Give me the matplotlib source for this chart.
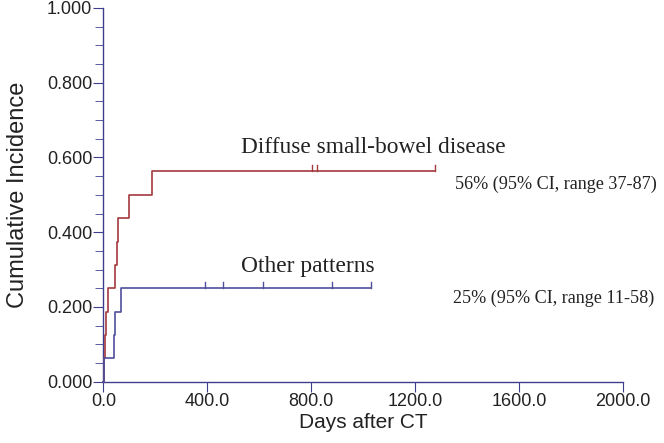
import numpy as np
import matplotlib.pyplot as plt

# step times (days) and cumulative incidence after each step
diffuse_t = [0, 2, 5, 10, 18, 45, 51, 58, 100, 189]
diffuse_ci = [0.0, 0.0625, 0.125, 0.1875, 0.25, 0.3125, 0.375, 0.4375, 0.5, 0.5625]
diffuse_end = 1277
diffuse_cens = [804, 821, 1277]

other_t = [0, 2, 41, 45, 70]
other_ci = [0.0, 0.0625, 0.125, 0.1875, 0.25]
other_end = 1030
other_cens = [391, 459, 615, 882, 1030]

red = "#a33a3e"
blue = "#4f4f9c"
axcol = "#3e3e8e"

fig = plt.figure(figsize=(6.64, 4.43), dpi=100)
ax = fig.add_axes([0.1556, 0.1384, 0.7822, 0.8436])


def km(t, ci, end, cens, col):
    x = list(t) + [end]
    y = list(ci) + [ci[-1]]
    ax.step(x, y, where="post", color=col, lw=1.2, clip_on=False, zorder=3)
    for c in cens:
        ax.plot([c, c], [ci[-1], ci[-1] + 0.016], color=col, lw=1.0, clip_on=False, zorder=3)


km(diffuse_t, diffuse_ci, diffuse_end, diffuse_cens, red)
km(other_t, other_ci, other_end, other_cens, blue)

ax.set_xlim(0, 2000)
ax.set_ylim(0, 1.0)
ax.set_xticks(np.arange(0, 2001, 400))
ax.set_xticklabels([f"{v:.1f}" for v in np.arange(0, 2001, 400)])
ax.set_yticks(np.arange(0, 1.01, 0.2))
ax.set_yticklabels([f"{v:.3f}" for v in np.arange(0, 1.01, 0.2)])
ax.set_yticks(np.arange(0, 1.01, 0.05), minor=True)

for s in ["top", "right"]:
    ax.spines[s].set_visible(False)
for s in ["left", "bottom"]:
    ax.spines[s].set_color(axcol)
    ax.spines[s].set_linewidth(1.0)
ax.tick_params(axis="both", which="both", direction="out", color=axcol,
               labelsize=13, labelcolor="#222222", pad=1)
ax.tick_params(which="major", length=7)
ax.tick_params(which="minor", length=6)
for lab in ax.get_xticklabels() + ax.get_yticklabels():
    lab.set_family("Liberation Sans")

ax.set_xlabel("Days after CT", fontsize=15, family="Liberation Sans", color="#222222", labelpad=2)
ax.set_ylabel("Cumulative Incidence", fontsize=17, family="Liberation Sans", color="#222222", labelpad=13)

serif = "Liberation Serif"
ax.text(530, 0.612, "Diffuse small-bowel disease", fontsize=16.8, family=serif, color="#222222")
ax.text(530, 0.293, "Other patterns", fontsize=16.8, family=serif, color="#222222")
ax.text(1356, 0.516, "56% (95% CI, range 37-87)", fontsize=13.1, family=serif, color="#222222", clip_on=False)
ax.text(1348, 0.211, "25% (95% CI, range 11-58)", fontsize=13.1, family=serif, color="#222222", clip_on=False)

fig.savefig("out.png", dpi=100)
